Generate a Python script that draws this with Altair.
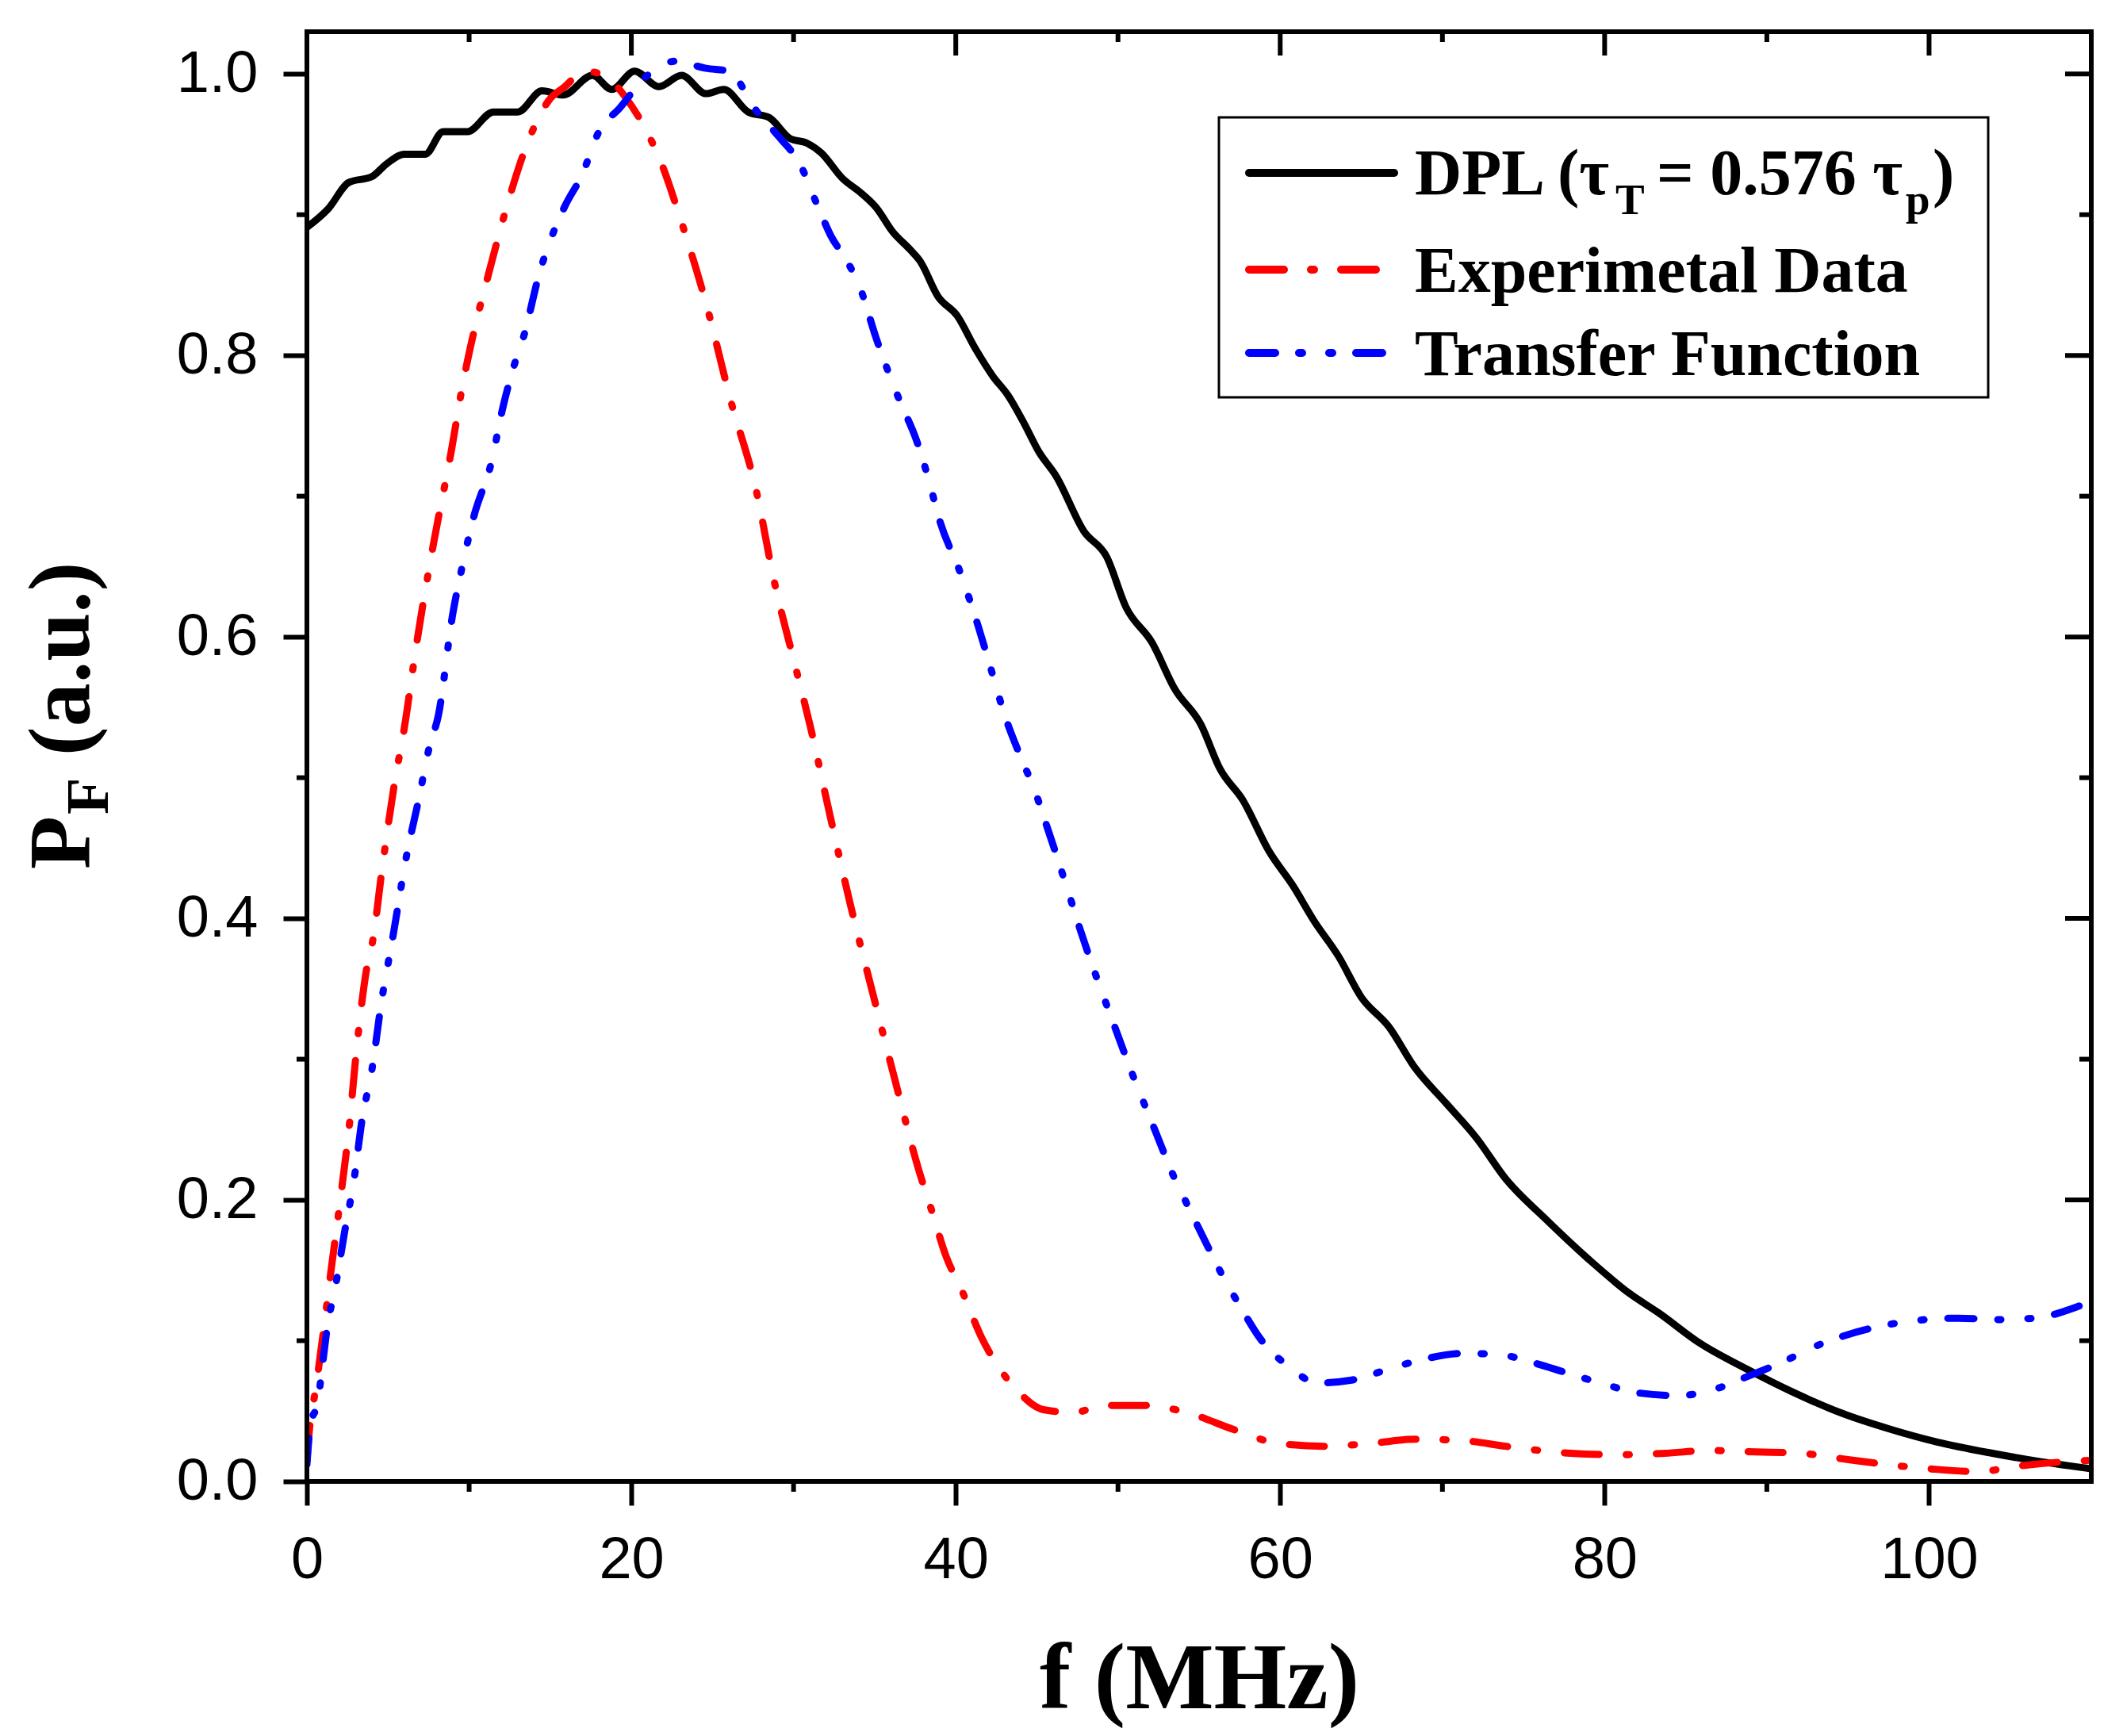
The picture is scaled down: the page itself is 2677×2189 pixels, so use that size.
import altair as alt
import pandas as pd

# ---------------- data ----------------
dpl_f = [0, 1.3, 2.6, 4.0, 4.9, 6.0, 7.3, 8.4, 9.9, 11.5, 13.0, 14.5, 15.8, 17.6, 18.8,
         20.2, 21.7, 23.1, 24.6, 25.7, 27.2, 28.5, 29.8, 30.8, 31.7, 33.0, 34.2, 35.1,
         36.1, 37.2, 37.8, 38.9, 40.1, 41.2, 42.3, 43.2, 44.2, 45.1, 46.2, 47.9, 49.3,
         50.5, 52.1, 53.5, 55.1, 56.3, 57.7, 59.3, 60.8, 62.1, 63.6, 65.0, 66.7, 68.3,
         70.2, 72.1, 73.9, 76.4, 79.0, 81.6, 83.3, 85.9, 88.9, 91.5, 94.5, 97.5, 100.5,
         103.9, 106.9, 110]
dpl_v = [0.891, 0.904, 0.923, 0.927, 0.936, 0.943, 0.943, 0.959, 0.959, 0.973, 0.973,
         0.988, 0.985, 0.999, 0.989, 1.002, 0.991, 0.999, 0.986, 0.989, 0.973, 0.969,
         0.954, 0.951, 0.944, 0.926, 0.915, 0.905, 0.888, 0.875, 0.867, 0.842, 0.828,
         0.805, 0.785, 0.772, 0.752, 0.732, 0.714, 0.675, 0.657, 0.621, 0.596, 0.563,
         0.538, 0.506, 0.484, 0.448, 0.423, 0.398, 0.373, 0.344, 0.323, 0.294, 0.269,
         0.244, 0.215, 0.186, 0.158, 0.133, 0.120, 0.098, 0.079, 0.064, 0.049, 0.0375,
         0.028, 0.020, 0.014, 0.009]

exp_f = [0.0, 0.2, 0.5, 1.0, 1.5, 2.0, 2.65, 3.0, 3.65, 4.1, 4.6, 5.4, 6.0, 6.8, 7.8,
         8.9, 9.6, 10.4, 11.2, 12.3, 13.5, 14.9, 15.9, 17.1, 18.35, 19.6, 21.0, 21.8,
         23.0, 24.7, 26.1, 27.7, 28.8, 30.2, 31.0, 32.25, 33.5, 34.9, 36.3, 37.7, 38.5,
         39.4, 40.4, 41.6, 42.9, 44.0, 45.4, 47.3, 49.1, 51.7, 54.5, 57.1, 59.9, 62.7,
         65.6, 68.3, 71.3, 73.9, 77.9, 80.9, 83.7, 86.5, 89.3, 92.1, 94.7, 97.4, 100.0,
         103.0, 105.6, 108.4, 110]
exp_v = [0.015, 0.042, 0.063, 0.105, 0.151, 0.195, 0.257, 0.300, 0.362, 0.387, 0.432,
         0.496, 0.535, 0.598, 0.666, 0.732, 0.779, 0.822, 0.858, 0.905, 0.948, 0.981,
         0.991, 1.002, 0.999, 0.984, 0.958, 0.938, 0.898, 0.833, 0.769, 0.704, 0.640,
         0.575, 0.538, 0.473, 0.410, 0.346, 0.283, 0.222, 0.193, 0.160, 0.135, 0.102,
         0.077, 0.062, 0.051, 0.049, 0.054, 0.054, 0.048, 0.037, 0.027, 0.025, 0.027,
         0.030, 0.029, 0.025, 0.020, 0.019, 0.020, 0.022, 0.021, 0.020, 0.016, 0.012,
         0.009, 0.007, 0.011, 0.014, 0.015]

tf_f = [0.0, 0.2, 0.7, 0.9, 1.3, 1.7, 2.35, 2.9, 3.4, 4.0, 4.6, 5.3, 6.15, 6.9, 7.55,
        8.1, 9.0, 9.5, 10.3, 11.35, 12.1, 12.75, 13.4, 14.3, 15.9, 16.95, 18.0, 19.3,
        20.8, 22.7, 24.6, 26.0, 27.7, 29.2, 30.3, 31.6, 32.3, 33.3, 34.1, 35.1, 36.5,
        37.6, 38.3, 39.0, 40.3, 41.4, 42.1, 43.0, 44.1, 44.8, 45.6, 46.96, 47.7, 48.5,
        49.8, 50.9, 52.3, 53.5, 54.3, 55.4, 56.5, 57.5, 58.8, 60.6, 62.3, 64.4, 67.0,
        68.9, 71.3, 73.6, 75.4, 77.7, 80.3, 82.0, 84.6, 86.9, 88.9, 90.8, 93.2, 94.9,
        97.3, 99.8, 101.8, 104.3, 106.5, 109.1, 110]
tf_v = [0.012, 0.039, 0.058, 0.077, 0.113, 0.135, 0.179, 0.214, 0.257, 0.292, 0.341,
        0.387, 0.445, 0.485, 0.522, 0.544, 0.617, 0.646, 0.686, 0.723, 0.764, 0.792,
        0.815, 0.857, 0.906, 0.928, 0.959, 0.976, 0.997, 1.009, 1.004, 1.002, 0.974,
        0.954, 0.938, 0.903, 0.885, 0.867, 0.848, 0.812, 0.769, 0.739, 0.713, 0.683,
        0.645, 0.607, 0.580, 0.545, 0.512, 0.493, 0.466, 0.418, 0.391, 0.364, 0.323,
        0.289, 0.249, 0.215, 0.196, 0.170, 0.145, 0.125, 0.101, 0.081, 0.070, 0.072,
        0.081, 0.087, 0.091, 0.090, 0.085, 0.077, 0.068, 0.063, 0.061, 0.066, 0.075,
        0.084, 0.097, 0.104, 0.111, 0.115, 0.116, 0.115, 0.116, 0.124, 0.128]

x_major = [0, 20, 40, 60, 80, 100]
x_minor = [10, 30, 50, 70, 90]
y_major = [0.0, 0.2, 0.4, 0.6, 0.8, 1.0]
y_minor = [0.1, 0.3, 0.5, 0.7, 0.9]

x_title = "f (MHz)"
y_title_main = "P"
y_title_sub = "F"
y_title_rest = "(a.u.)"
leg_dpl = ["DPL (τ", "T", "= 0.576 τ", "p", ")"]
leg_exp = "Experimetal Data"
leg_tf = "Transfer Function"

# ---------------- layout ----------------
W, H = 2250, 1828
SERIF = "Liberation Serif"
SANS = "Liberation Sans"

xs = alt.Scale(domain=[0, 110], nice=False, zero=False)
ys = alt.Scale(domain=[0, 1.03], nice=False, zero=False)

ax_x = alt.Axis(values=x_major, tickSize=30, tickWidth=6, tickColor="black",
                domain=False, grid=False, labelFont=SANS, labelFontSize=74,
                labelColor="black", labelPadding=33, labelFlush=False,
                labelOverlap=False, title=x_title, titleFont=SERIF,
                titleFontSize=118, titleFontWeight="bold", titleColor="black",
                titleX=W / 2, titleY=285, titleAlign="center",
                titleBaseline="alphabetic", titleAngle=0)
ax_y = alt.Axis(values=y_major, format=".1f", tickSize=30, tickWidth=6,
                tickColor="black", domain=False, grid=False, labelFont=SANS,
                labelFontSize=74, labelColor="black", labelPadding=32,
                labelFlush=False, labelOverlap=False, title=None)


def line_layer(f, v, color, dash=None):
    df = pd.DataFrame({"f": f, "v": v})
    kw = dict(color=color, strokeWidth=9, strokeCap="round", strokeJoin="round",
              interpolate="monotone", clip=True)
    if dash is not None:
        kw["strokeDash"] = dash
    return alt.Chart(df).mark_line(**kw).encode(
        x=alt.X("f:Q", scale=xs, axis=ax_x),
        y=alt.Y("v:Q", scale=ys, axis=ax_y),
    )


def xtick_layer(vals, y0, y1):
    return alt.Chart(pd.DataFrame({"f": vals})).mark_rule(
        color="black", strokeWidth=6).encode(
        x=alt.X("f:Q", scale=xs, axis=ax_x), y=alt.value(y0), y2=alt.value(y1))


def ytick_layer(vals, x0, x1):
    return alt.Chart(pd.DataFrame({"v": vals})).mark_rule(
        color="black", strokeWidth=6).encode(
        y=alt.Y("v:Q", scale=ys, axis=ax_y), x=alt.value(x0), x2=alt.value(x1))


def text_layer(s, x, y, size, angle=0, font=SERIF, weight="bold"):
    return alt.Chart(pd.DataFrame({"t": [s]})).mark_text(
        align="left", baseline="alphabetic", fontSize=size, font=font,
        fontWeight=weight, angle=angle, color="black").encode(
        text="t:N", x=alt.value(x), y=alt.value(y))


def sample_layer(color, x0, x1, y, dash=None):
    kw = dict(color=color, strokeWidth=10, strokeCap="round")
    if dash is not None:
        kw["strokeDash"] = dash
    return alt.Chart(pd.DataFrame({"k": [0]})).mark_rule(**kw).encode(
        x=alt.value(x0), x2=alt.value(x1), y=alt.value(y))


RED_DASH = [44, 34, 4, 34]
BLUE_DASH = [33, 30, 4, 34, 4, 30]

layers = [
    line_layer(dpl_f, dpl_v, "black"),
    line_layer(exp_f, exp_v, "#ff0000", RED_DASH),
    line_layer(tf_f, tf_v, "#0000ff", BLUE_DASH),
    # plot frame
    alt.Chart(pd.DataFrame({"k": [0]})).mark_rect(
        fillOpacity=0, stroke="black", strokeWidth=6).encode(
        x=alt.value(0), x2=alt.value(W), y=alt.value(0), y2=alt.value(H)),
    # minor / mirrored ticks
    xtick_layer(x_minor, H, H + 13),
    xtick_layer(x_major, 0, 30),
    xtick_layer(x_minor, 0, 13),
    ytick_layer(y_minor, 0, -13),
    ytick_layer(y_major, W, W - 33),
    ytick_layer(y_minor, W, W - 15),
    # y title with subscript
    text_layer(y_title_main, -275, 1056, 110, angle=270),
    text_layer(y_title_sub, -251, 987, 76, angle=270),
    text_layer(y_title_rest, -275, 913, 110, angle=270),
    # legend box
    alt.Chart(pd.DataFrame({"k": [0]})).mark_rect(
        fill="white", stroke="black", strokeWidth=3).encode(
        x=alt.value(1150), x2=alt.value(2120), y=alt.value(108), y2=alt.value(461)),
    sample_layer("black", 1188, 1371, 178),
    sample_layer("#ff0000", 1188, 1350, 300, RED_DASH),
    sample_layer("#0000ff", 1188, 1361, 405, BLUE_DASH),
    text_layer(leg_dpl[0], 1397, 205, 82),
    text_layer(leg_dpl[1], 1650, 230, 55),
    text_layer(leg_dpl[2], 1702, 205, 82),
    text_layer(leg_dpl[3], 2016, 230, 55),
    text_layer(leg_dpl[4], 2050, 205, 82),
    text_layer(leg_exp, 1397, 328, 82),
    text_layer(leg_tf, 1397, 433, 82),
]

chart = alt.layer(*layers).properties(
    width=W, height=H,
    padding={"left": 379, "top": 32, "right": 32, "bottom": 313},
    autosize=alt.AutoSizeParams(type="none"),
).configure_view(stroke="black", strokeWidth=6).configure(background="white")

chart.save("out.html", embed_options={"renderer": "svg", "actions": False})
